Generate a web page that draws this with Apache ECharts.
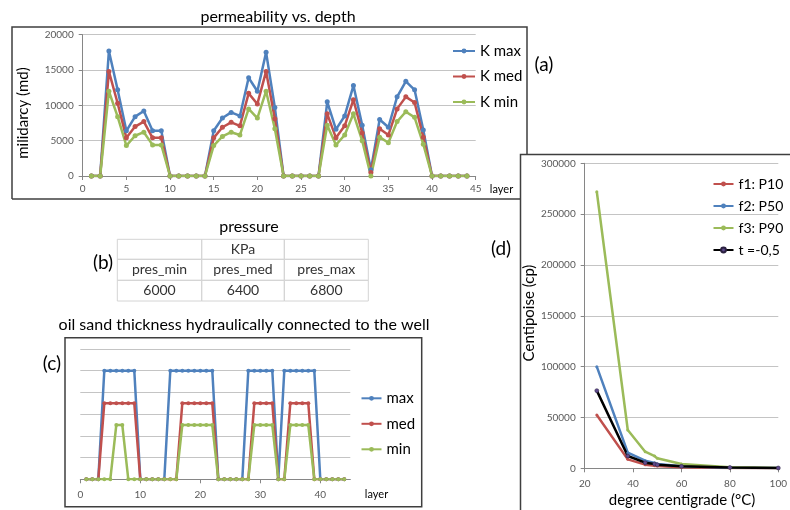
<!DOCTYPE html>
<html>
<head>
<meta charset="utf-8">
<script src="https://cdn.jsdelivr.net/npm/echarts@6/dist/echarts.min.js"></script>
<style>
  html, body { margin: 0; padding: 0; background: #fff; }
  #chart { width: 790px; height: 510px; }
</style>
</head>
<body>
<div id="chart"></div>
<script>
// ---- (a) permeability vs. depth ----
const layers = [1,2,3,4,5,6,7,8,9,10,11,12,13,14,15,16,17,18,19,20,21,22,23,24,25,26,27,28,29,30,31,32,33,34,35,36,37,38,39,40,41,42,43,44];
const kMax = [0,0,17700,12200,6400,8400,9200,6400,6400,0,0,0,0,0,6400,8200,9000,8500,13900,12000,17500,9700,0,0,0,0,0,10500,6600,8500,12800,7200,900,8000,6900,11200,13400,12200,6500,0,0,0,0,0];
const kMed = [0,0,14800,10300,5400,7000,7700,5400,5400,0,0,0,0,0,5400,6900,7600,7100,11700,10200,14800,8100,0,0,0,0,0,8800,5400,7100,10800,6100,500,6700,5800,9500,11200,10400,5500,0,0,0,0,0];
const kMin = [0,0,12000,8400,4300,5700,6200,4400,4400,0,0,0,0,0,4300,5600,6200,5800,9500,8200,12000,6700,0,0,0,0,0,7200,4400,5800,8800,5000,0,5500,4700,7700,9100,8300,4500,0,0,0,0,0];
const kNames = ['K max', 'K med', 'K min'];

// ---- (b) pressure table ----
const pressureUnit = 'KPa';
const pressureNames = ['pres_min', 'pres_med', 'pres_max'];
const pressureValues = [6000, 6400, 6800];

// ---- (c) oil sand thickness hydraulically connected to the well ----
const thickMax = [0,0,0,5,5,5,5,5,5,0,0,0,0,0,5,5,5,5,5,5,5,5,0,0,0,0,0,5,5,5,5,5,0,5,5,5,5,5,5,0,0,0,0,0];
const thickMed = [0,0,0,3.5,3.5,3.5,3.5,3.5,3.5,0,0,0,0,0,0,0,3.5,3.5,3.5,3.5,3.5,3.5,0,0,0,0,0,0,3.5,3.5,3.5,3.5,0,0,3.5,3.5,3.5,3.5,0,0,0,0,0,0];
const thickMin = [0,0,0,0,0,2.5,2.5,0,0,0,0,0,0,0,0,0,2.5,2.5,2.5,2.5,2.5,2.5,0,0,0,0,0,0,2.5,2.5,2.5,2.5,0,0,2.5,2.5,2.5,2.5,0,0,0,0,0,0];
const thickNames = ['max', 'med', 'min'];

// ---- (d) viscosity vs. temperature ----
const temps = [25, 37.8, 45, 48.9, 50, 60, 80, 100];
const viscP10 = [52500, 8800, 3600, 2500, 2200, 1000, 300, 100];
const viscP50 = [100000, 15400, 7500, 5200, 4300, 2000, 600, 200];
const viscP90 = [272000, 37700, 16300, 12000, 9800, 4200, 1000, 300];
const viscT = [76400, 12100, 5500, 4200, 3500, 1900, 800, 300];
const viscNames = ['f1: P10', 'f2: P50', 'f3: P90', 't =-0,5'];

const BLUE = '#4F81BD', RED = '#C0504D', GREEN = '#9BBB59';
const FONT = 'Lato, "Noto Sans", sans-serif';
const AXIS_GREY = '#868686', GRID_GREY = '#C4C4C4', LABEL_GREY = '#595959';

const pairs = (xs, ys) => xs.map((x, i) => [x, ys[i]]);
const plain = v => String(v);

function tickLabels(margin, extra) {
  return Object.assign({ color: LABEL_GREY, fontSize: 10, fontFamily: FONT, margin, formatter: plain }, extra || {});
}

function valueAxis(extra) {
  return Object.assign({
    type: 'value',
    axisLine: { show: true, lineStyle: { color: AXIS_GREY, width: 1 } },
    axisTick: { show: true, inside: false, length: 4, lineStyle: { color: AXIS_GREY } },
    axisLabel: tickLabels(9),
    splitLine: { show: false }
  }, extra);
}

function lineSeries(name, data, color, gridIdx, width, size) {
  return {
    name, type: 'line', xAxisIndex: gridIdx, yAxisIndex: gridIdx,
    data, symbol: 'circle', symbolSize: size, showSymbol: true,
    lineStyle: { color, width }, itemStyle: { color },
    animation: false, emphasis: { disabled: true }
  };
}

// Frame and annotation drawing
const frame = { stroke: '#3F3F3F', lineWidth: 1.5, fill: null };
function txt(text, x, y, size, opts) {
  return {
    type: 'text', x, y, silent: true,
    style: Object.assign({ text, font: size + 'px ' + FONT, fill: '#000', align: 'center', verticalAlign: 'middle' }, opts || {})
  };
}

const graphics = [];
// box (a), partly hidden behind box (d)
graphics.push({ type: 'polyline', shape: { points: [[12, 199], [12, 27], [527, 27], [527, 154.5]] }, style: frame, silent: true });
graphics.push({ type: 'line', shape: { x1: 12, y1: 199, x2: 520.5, y2: 199 }, style: frame, silent: true });
// box (c)
graphics.push({ type: 'rect', shape: { x: 65, y: 337.7, width: 356.7, height: 169 }, style: frame, silent: true });
// box (d)
graphics.push({ type: 'polyline', shape: { points: [[520.5, 515], [520.5, 154.5], [795, 154.5]] }, style: frame, silent: true });

// titles and panel letters
graphics.push(txt('permeability vs. depth', 278, 17, 16));
graphics.push(txt('(a)', 544, 65, 19));
graphics.push(txt('pressure', 249, 227, 16));
graphics.push(txt('(b)', 103, 263, 19));
graphics.push(txt('oil sand thickness hydraulically connected to the well', 244, 325, 16));
graphics.push(txt('(c)', 52, 364, 19));
graphics.push(txt('(d)', 501, 249, 19));

// axis titles
graphics.push(Object.assign(txt('milidarcy (md)', 23, 113, 15), { rotation: Math.PI / 2 }));
graphics.push(txt('layer', 501.5, 189, 11));
graphics.push(txt('layer', 376.5, 494, 11));
graphics.push(Object.assign(txt('Centipoise (cp)', 529, 313, 15), { rotation: Math.PI / 2 }));
graphics.push(txt('degree centigrade (\u00B0C)', 682, 500, 15));

// pressure table
const colX = [117.3, 201.7, 284.3, 368.3];
const rowY = [239.3, 259.3, 280.3, 301];
const cellStroke = { stroke: '#D4D4D4', lineWidth: 1, fill: null };
for (let r = 0; r < 3; r++) {
  for (let c = 0; c < 3; c++) {
    graphics.push({ type: 'rect', silent: true,
      shape: { x: colX[c], y: rowY[r], width: colX[c + 1] - colX[c], height: rowY[r + 1] - rowY[r] },
      style: cellStroke });
  }
}
const colMid = c => (colX[c] + colX[c + 1]) / 2;
const rowMid = r => (rowY[r] + rowY[r + 1]) / 2;
graphics.push(txt(pressureUnit, colMid(1), rowMid(0), 14, { fill: '#333' }));
pressureNames.forEach((n, c) => graphics.push(txt(n, colMid(c), rowMid(1), 14, { fill: '#333' })));
pressureValues.forEach((v, c) => graphics.push(txt(String(v), colMid(c), rowMid(2), 14, { fill: '#333' })));

function legendAt(names, left, top, itemWidth, itemGap, fontSize) {
  return {
    data: names, orient: 'vertical', padding: 0, itemHeight: 6, selectedMode: false,
    left, top, itemWidth, itemGap,
    textStyle: { fontSize, fontFamily: FONT, color: '#000', lineHeight: 16 }
  };
}

const option = {
  animation: false,
  backgroundColor: '#fff',
  grid: [
    { left: 82.7, top: 34.7, width: 393, height: 141.3 },
    { left: 80.3, top: 349, width: 270, height: 130.3 },
    { left: 584.7, top: 163.3, width: 198.6, height: 305 }
  ],
  xAxis: [
    valueAxis({ gridIndex: 0, min: 0, max: 45, interval: 5, axisLabel: tickLabels(8) }),
    valueAxis({ gridIndex: 1, min: 0, max: 45, interval: 10, axisLabel: tickLabels(10, { showMaxLabel: false }) }),
    valueAxis({ gridIndex: 2, min: 20, max: 100, interval: 20, axisLabel: tickLabels(10) })
  ],
  yAxis: [
    valueAxis({ gridIndex: 0, min: 0, max: 20000, interval: 5000, splitLine: { show: true, lineStyle: { color: GRID_GREY } } }),
    valueAxis({ gridIndex: 1, min: 0, max: 6, interval: 1,
      axisLine: { show: false }, axisTick: { show: false }, axisLabel: { show: false },
      splitLine: { show: true, lineStyle: { color: GRID_GREY } } }),
    valueAxis({ gridIndex: 2, min: 0, max: 300000, interval: 50000, splitLine: { show: true, lineStyle: { color: GRID_GREY } } })
  ],
  legend: [
    legendAt(kNames, 452, 43, 22, 9.5, 15),
    legendAt(thickNames, 360.5, 390.3, 20, 9.5, 15),
    legendAt(viscNames, 712.5, 176, 20, 6, 14)
  ],
  graphic: { elements: graphics },
  series: [
    lineSeries(kNames[0], pairs(layers, kMax), BLUE, 0, 2.5, 5),
    lineSeries(kNames[1], pairs(layers, kMed), RED, 0, 2.5, 5),
    lineSeries(kNames[2], pairs(layers, kMin), GREEN, 0, 2.5, 5),
    lineSeries(thickNames[0], pairs(layers, thickMax), BLUE, 1, 2.5, 4),
    lineSeries(thickNames[1], pairs(layers, thickMed), RED, 1, 2.5, 4),
    lineSeries(thickNames[2], pairs(layers, thickMin), GREEN, 1, 2.5, 4),
    lineSeries(viscNames[0], pairs(temps, viscP10), RED, 2, 2.5, 3),
    lineSeries(viscNames[1], pairs(temps, viscP50), BLUE, 2, 2.5, 3),
    lineSeries(viscNames[2], pairs(temps, viscP90), GREEN, 2, 2.5, 3),
    Object.assign(lineSeries(viscNames[3], pairs(temps, viscT), '#000', 2, 2.5, 4),
      { itemStyle: { color: '#5E4A8C', borderColor: '#2B2140', borderWidth: 0.5 } })
  ]
};

const chart = echarts.init(document.getElementById('chart'), null, { renderer: 'canvas' });
chart.setOption(option);
</script>
</body>
</html>
